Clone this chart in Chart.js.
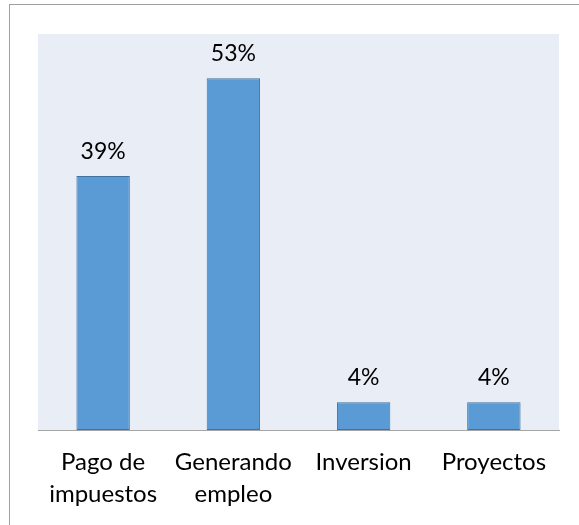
<!DOCTYPE html>
<html>
<head>
<meta charset="utf-8">
<script src="https://cdn.jsdelivr.net/npm/chart.js@4.4.1/dist/chart.umd.min.js"></script>
<style>
  html, body { margin: 0; padding: 0; background: #fff; }
  #wrap { position: relative; width: 579px; height: 525px; overflow: hidden; }
  #frame { position: absolute; left: 9px; top: 4px; width: 600px; height: 600px; border: 1px solid #a0a0a0; box-sizing: border-box; }
  canvas { position: absolute; left: 0; top: 0; }
</style>
</head>
<body>
<div id="wrap">
  <div id="frame"></div>
  <canvas id="chart" width="579" height="525"></canvas>
</div>
<script>
// Data
const categories = [['Pago de', 'impuestos'], ['Generando', 'empleo'], 'Inversion', 'Proyectos'];
const values = [38.5, 53.3, 4.2, 4.2];
const valueLabels = ['39%', '53%', '4%', '4%'];

const FONT = 'Lato, "Open Sans", sans-serif';

// Plot background fill
const plotBg = {
    id: 'plotBg',
    beforeDraw(chart) {
        const { ctx, chartArea: a } = chart;
        ctx.save();
        ctx.fillStyle = '#e9edf6';
        ctx.fillRect(a.left, a.top, a.right - a.left, a.bottom - a.top);
        ctx.restore();
    }
};

// Value labels above each bar
const barLabels = {
    id: 'barLabels',
    afterDatasetsDraw(chart) {
        const { ctx } = chart;
        const meta = chart.getDatasetMeta(0);
        ctx.save();
        ctx.font = '23px ' + FONT;
        ctx.fillStyle = '#000';
        ctx.textAlign = 'center';
        ctx.textBaseline = 'alphabetic';
        meta.data.forEach((bar, i) => {
            ctx.fillText(valueLabels[i], bar.x, bar.y - 17);
        });
        ctx.restore();
    }
};

new Chart(document.getElementById('chart'), {
    type: 'bar',
    data: {
        labels: categories,
        datasets: [{
            data: values,
            backgroundColor: '#5b9bd5',
            borderColor: '#41719c',
            borderWidth: 1,
            borderSkipped: false,
            barPercentage: 0.41,
            categoryPercentage: 1
        }]
    },
    options: {
        responsive: false,
        animation: false,
        events: [],
        layout: { padding: { left: 38, right: 20, top: 34, bottom: 0 } },
        plugins: {
            legend: { display: false },
            tooltip: { enabled: false }
        },
        scales: {
            x: {
                grid: { display: false, drawTicks: false },
                border: { color: '#a6a6a6', width: 1 },
                ticks: {
                    color: '#000',
                    font: { family: FONT, size: 24, lineHeight: 1.35 },
                    padding: 16,
                    maxRotation: 0,
                    autoSkip: false
                },
                afterFit(scale) { scale.height = 95; }
            },
            y: {
                display: false,
                min: 0,
                max: 60
            }
        }
    },
    plugins: [plotBg, barLabels]
});
</script>
</body>
</html>
